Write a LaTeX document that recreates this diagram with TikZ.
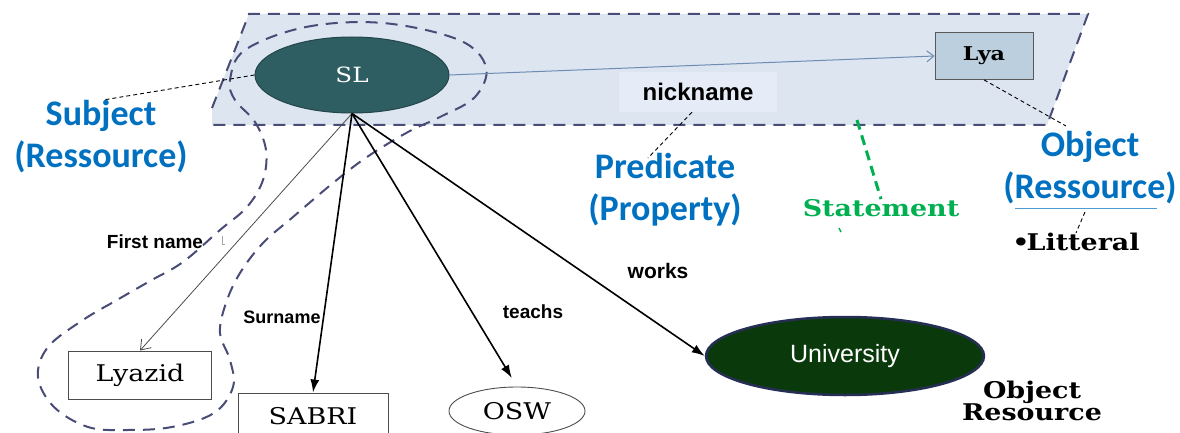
\documentclass[tikz,border=0pt]{standalone}
\usepackage{fontspec}
\setmainfont{Liberation Sans}
\newfontfamily\calib{Carlito}
\newfontfamily\arial{Liberation Sans}
\newfontfamily\slab[FakeStretch=1.17]{DejaVu Serif}
\usetikzlibrary{arrows.meta,calc,shapes.geometric}

\definecolor{bandfill}{RGB}{220,229,240}
\definecolor{dashnavy}{RGB}{72,76,118}
\definecolor{slteal}{RGB}{47,94,98}
\definecolor{lyafill}{RGB}{188,207,222}
\definecolor{nickfill}{RGB}{229,235,247}
\definecolor{lblue}{RGB}{0,112,192}
\definecolor{sgreen}{RGB}{0,176,80}
\definecolor{unigreen}{RGB}{10,58,12}
\definecolor{uniedge}{RGB}{38,46,84}
\definecolor{linkblue}{RGB}{110,140,180}

\tikzset{
  rolelabel/.style={text=lblue, align=center, inner sep=0pt,
    font=\calib\bfseries\fontsize{36}{42}\selectfont},
  edgelabel/.style={inner sep=0pt, font=\arial\bfseries\fontsize{19}{22}\selectfont},
  slablabel/.style={inner sep=0pt, align=center,
    font=\slab\bfseries\fontsize{23}{22}\selectfont},
  pointer/.style={black, line width=0.9pt, dash pattern=on 4pt off 3pt},
  boundary/.style={dashnavy, line width=2pt, dash pattern=on 12pt off 8pt},
  litbox/.style={draw=gray!60!black, line width=0.9pt, fill=white,
    font=\slab\fontsize{23}{26}\selectfont},
  fanarrow/.style={black, line width=1.6pt, -{Latex[length=13pt,width=9pt]}},
}

\begin{document}
\begin{tikzpicture}[x=1pt,y=-1pt]
\useasboundingbox (0,0) rectangle (1180,433);
\clip (0,0) rectangle (1180,433);

% statement band
\fill[bandfill] (249,14) -- (1088,14) -- (1047,125) -- (212,125) -- (212,108) -- cycle;
\draw[boundary] (212,108) -- (249,14) -- (1088,14) -- (1047,125) -- (212,125);

% dashed boundary around the subject and its first name
\draw[boundary] plot[smooth cycle, tension=0.6] coordinates {
  (245,50) (306,27) (383,23) (459,40) (486,67) (475,97) (440,117) (408,132)
  (367,157) (333,183) (293,217) (263,243) (240,273) (226,303) (220,333)
  (230,360) (233,387) (214,413) (172,427) (126,430) (88,427) (54,407)
  (38,377) (48,347) (83,320) (117,300) (150,281) (183,262) (220,230)
  (247,207) (263,180) (266,150) (255,122) (235,100) (230,80)};

% resources and literals
\node[ellipse, fill=slteal, draw=slteal!75!black, line width=1pt,
      minimum width=194pt, minimum height=76pt, text=white,
      font=\slab\fontsize{21}{24}\selectfont] (SL) at (352,75) {SL};
\node[draw=gray!70!black, line width=0.8pt, fill=lyafill,
      minimum width=98pt, minimum height=47pt,
      font=\slab\bfseries\fontsize{19}{22}\selectfont] (Lya) at (984,56) {Lya};
\node[fill=nickfill, minimum width=158pt, minimum height=40pt,
      font=\arial\bfseries\fontsize{24}{26}\selectfont] (nick) at (698,92) {nickname};

\node[litbox, minimum width=143pt, minimum height=48pt] (Lyazid) at (140,375) {Lyazid};
\node[litbox, minimum width=150pt, minimum height=46pt] (SABRI) at (313,416) {SABRI};
\node[litbox, ellipse, minimum width=136pt, minimum height=48pt] (OSW) at (517,411) {OSW};
\node[ellipse, fill=unigreen, draw=uniedge, line width=2.5pt,
      minimum width=278pt, minimum height=78pt, text=white,
      font=\arial\fontsize{25}{28}\selectfont] (Univ) at (845,356) {University};

% role labels
\node[rolelabel] (subj) at (101,137) {Subject\\(Ressource)};
\node[rolelabel] (pred) at (665,190) {Predicate\\(Property)};
\node[rolelabel] (obj)  at (1090,168) {Object\\(Ressource)};
\node[slablabel, text=sgreen] (stmt) at (881,208) {Statement};
\node[slablabel] (litt) at (1076,242) {•\kern-3pt Litteral};
\node[slablabel] (objres) at (1032,401) {Object\\Resource};

% property labels
\node[edgelabel] (fname) at (155,242) {First name};
\node[edgelabel, font=\arial\bfseries\fontsize{18}{22}\selectfont] (sname) at (282,317) {Surname};
\node[edgelabel] (teach) at (533,312) {teachs};
\node[edgelabel, font=\arial\bfseries\fontsize{21}{24}\selectfont] (works) at (658,271) {works};

% triples
\draw[linkblue, line width=1pt, -{Straight Barb[length=7pt,width=11pt]}] (SL.east) -- (Lya.west);
\draw[gray!60!black, line width=0.8pt, -{Straight Barb[length=9pt,width=13pt]}] (SL.south) -- (Lyazid.north);
\draw[fanarrow] (SL.south) -- (SABRI.north);
\draw[fanarrow, shorten >=10pt] (SL.south) -- (OSW.north);
\draw[fanarrow] (SL.south) -- (Univ.west);

% pointers from the band to the role labels
\coordinate (subjtip) at (103,100);
\coordinate (predtip) at (648,158);
\coordinate (objtip) at (1066,126);
\coordinate (stmtfoot) at (857,120);
\draw[pointer] (SL.west) -- (subjtip);
\draw[pointer] ($(nick.south)+(-6,0)$) -- (predtip);
\draw[pointer] (Lya.south) -- (objtip);
\draw[sgreen, line width=3pt, dash pattern=on 10pt off 6pt] (stmtfoot) -- (stmt.north);
\draw[sgreen, line width=1.5pt] (839,228) -- (841,232);

% underline of the object role and its literal pointer
\coordinate (ulA) at (1015,208);
\coordinate (ulB) at (1157,208);
\draw[lblue!70, line width=1pt] (ulA) -- (ulB);
\draw[pointer] (1085,212) -- (litt.north);

% small mark beside the first-name label
\draw[gray!70, line width=0.8pt] (222,236) -- (222,244) -- (225,244);
\end{tikzpicture}
\end{document}
